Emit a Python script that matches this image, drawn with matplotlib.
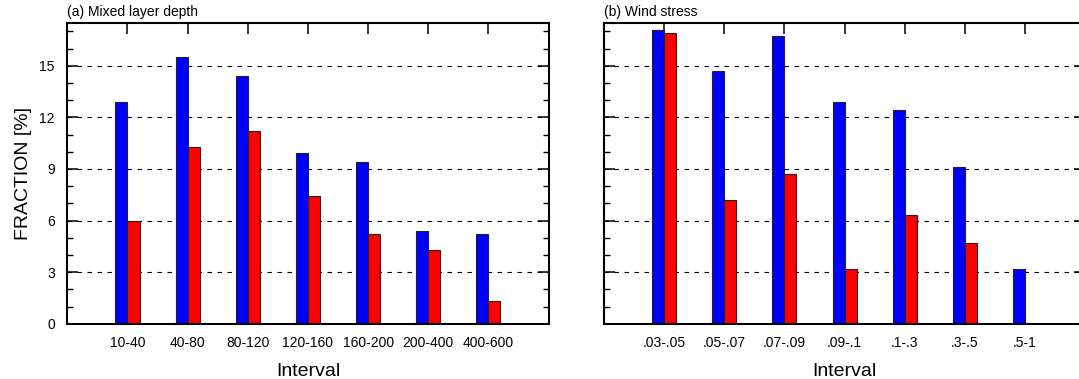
"""Fraction histograms: mixed layer depth and wind stress."""

import matplotlib
matplotlib.use("Agg")
import matplotlib.pyplot as plt
import numpy as np

plt.rcParams["font.family"] = ["Liberation Sans", "DejaVu Sans"]

# (a) mixed layer depth
mld_labels = ["10-40", "40-80", "80-120", "120-160", "160-200", "200-400", "400-600"]
mld_blue = [12.9, 15.5, 14.4, 9.9, 9.4, 5.4, 5.2]
mld_red = [6.0, 10.3, 11.2, 7.4, 5.2, 4.3, 1.3]

# (b) wind stress
ws_labels = [".03-.05", ".05-.07", ".07-.09", ".09-.1", ".1-.3", ".3-.5", ".5-1"]
ws_blue = [17.1, 14.7, 16.7, 12.9, 12.4, 9.1, 3.2]
ws_red = [16.9, 7.2, 8.7, 3.2, 6.3, 4.7, 0.0]

panels = [
    ("(a) Mixed layer depth", mld_labels, mld_blue, mld_red),
    ("(b) Wind stress", ws_labels, ws_blue, ws_red),
]

fig = plt.figure(figsize=(10.79, 3.79), dpi=100)
axes = [
    fig.add_axes([0.0624, 0.1459, 0.446, 0.7942]),
    fig.add_axes([0.5598, 0.1459, 0.4458, 0.7942]),
]

bar_w = 0.2
for i, (ax, (title, labels, blue, red)) in enumerate(zip(axes, panels)):
    x = np.arange(1, len(labels) + 1)
    ax.bar(x - bar_w / 2, blue, width=bar_w, color="#0000ff",
           edgecolor="#222222", linewidth=0.8)
    ax.bar(x + bar_w / 2, red, width=bar_w, color="#ff0000",
           edgecolor="#222222", linewidth=0.8)

    ax.set_xlim(0, 8)
    ax.set_ylim(0, 17.5)
    ax.set_xticks(x)
    ax.set_xticklabels(labels, fontsize=10)
    ax.set_yticks(np.arange(0, 16, 3))
    ax.set_yticks(np.arange(0, 18, 1), minor=True)

    ax.yaxis.grid(True, which="major", color="black", linewidth=0.8,
                  linestyle=(0, (4, 5)))
    ax.set_axisbelow(True)

    ax.tick_params(axis="both", which="major", direction="in", length=8,
                   width=1.1, top=True, right=True, labelsize=10)
    ax.tick_params(axis="x", which="major", pad=9)
    ax.tick_params(axis="y", which="major", pad=9)
    ax.tick_params(axis="y", which="minor", direction="in", length=4.3,
                   width=1.0, left=True, right=True)
    ax.tick_params(axis="x", which="minor", bottom=False, top=False)
    for sp in ax.spines.values():
        sp.set_linewidth(1.5)

    ax.set_xlabel("Interval", fontsize=14, labelpad=9)
    ax.text(0, 1.012, title, transform=ax.transAxes, fontsize=10,
            ha="left", va="bottom")

    if i == 0:
        ax.set_ylabel("FRACTION [%]", fontsize=14, labelpad=5)
    else:
        ax.tick_params(axis="y", labelleft=False)

fig.savefig("out.png", dpi=100)
plt.close(fig)
